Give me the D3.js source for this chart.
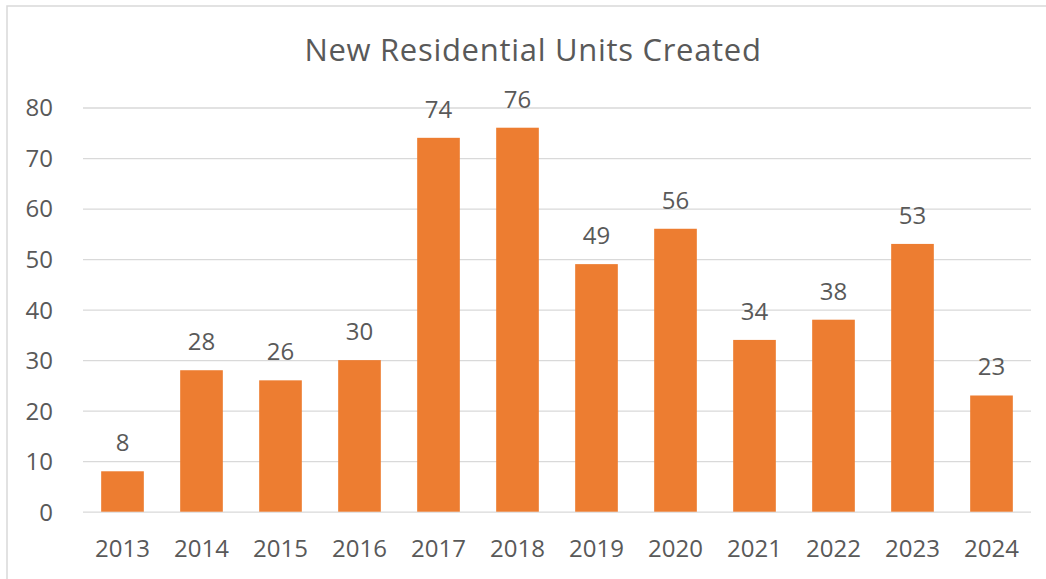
<!DOCTYPE html>
<html>
<head>
<meta charset="utf-8">
<script src="https://cdn.jsdelivr.net/npm/d3@7"></script>
<style>
  body { margin: 0; background: #fff; }
  text { font-family: "Open Sans", "Segoe UI", sans-serif; fill: #595959; }
</style>
</head>
<body>
<script>
// chart data
const years = ["2013", "2014", "2015", "2016", "2017", "2018", "2019", "2020", "2021", "2022", "2023", "2024"];
const units = [8, 28, 26, 30, 74, 76, 49, 56, 34, 38, 53, 23];
const yTicks = [0, 10, 20, 30, 40, 50, 60, 70, 80];

const width = 1046, height = 579;
const plotLeft = 83, plotRight = 1031, plotTop = 107.5, plotBottom = 511.7;

const svg = d3.select("body").append("svg")
    .attr("width", width)
    .attr("height", height);

// chart frame
svg.append("rect")
    .attr("x", 7)
    .attr("y", 6)
    .attr("width", width)
    .attr("height", height)
    .attr("fill", "none")
    .attr("stroke", "#d9d9d9")
    .attr("stroke-width", 1.5);

const x = d3.scaleBand()
    .domain(years)
    .range([plotLeft, plotRight])
    .paddingInner(0.46)
    .paddingOuter(0.23);

const y = d3.scaleLinear()
    .domain([0, 80])
    .range([plotBottom, plotTop]);

// gridlines + y labels
const yAxis = d3.axisLeft(y)
    .tickValues(yTicks)
    .tickSize(-(plotRight - plotLeft))
    .tickPadding(30);

const yg = svg.append("g")
    .attr("transform", `translate(${plotLeft},0)`)
    .call(yAxis);
yg.select(".domain").remove();
yg.selectAll(".tick line")
    .attr("stroke", "#d9d9d9")
    .attr("stroke-width", 1.3);
yg.selectAll(".tick text")
    .attr("fill", "#595959")
    .attr("dy", "0.35em")
    .style("font-size", "24px")
    .style("font-family", "'Open Sans', sans-serif");

// x labels
const xAxis = d3.axisBottom(x).tickSize(0).tickPadding(28);
const xg = svg.append("g")
    .attr("transform", `translate(0,${plotBottom})`)
    .call(xAxis);
xg.select(".domain").remove();
xg.selectAll(".tick text")
    .attr("fill", "#595959")
    .style("font-size", "24px")
    .style("font-family", "'Open Sans', sans-serif");

// bars
const data = years.map((yr, i) => ({ year: yr, value: units[i] }));

svg.append("g").selectAll("rect")
    .data(data)
    .join("rect")
    .attr("x", d => x(d.year))
    .attr("y", d => y(d.value))
    .attr("width", x.bandwidth())
    .attr("height", d => y(0) - y(d.value))
    .attr("fill", "#ed7d31");

// value labels
svg.append("g").selectAll("text")
    .data(data)
    .join("text")
    .attr("x", d => x(d.year) + x.bandwidth() / 2)
    .attr("y", d => y(d.value) - 20)
    .attr("text-anchor", "middle")
    .style("font-size", "24px")
    .text(d => d.value);

// title
svg.append("text")
    .attr("x", 533)
    .attr("y", 61)
    .attr("text-anchor", "middle")
    .style("font-size", "31px")
    .style("letter-spacing", "0.7px")
    .text("New Residential Units Created");
</script>
</body>
</html>
